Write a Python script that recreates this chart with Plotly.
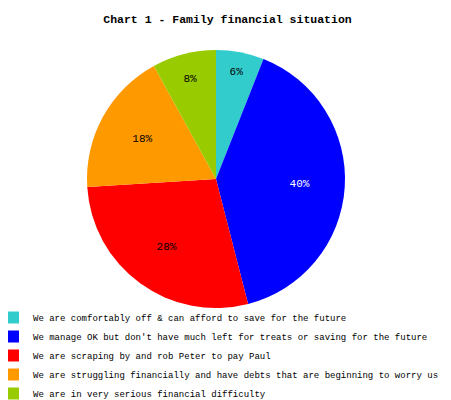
import plotly.graph_objects as go

labels = [
    "We are comfortably off & can afford to save for the future",
    "We manage OK but don't have much left for treats or saving for the future",
    "We are scraping by and rob Peter to pay Paul",
    "We are struggling financially and have debts that are beginning to worry us",
    "We are in very serious financial difficulty",
]
values = [6, 40, 28, 18, 8]
colors = ["#33CCCC", "#0000FF", "#FF0000", "#FF9900", "#99CC00"]
text_colors = ["#000000", "#FFFFFF", "#000000", "#000000", "#000000"]

# The page body has an 8px margin, so the figure is sized to the visible area
OFF = 8
W, H = 451 - OFF, 400 - OFF
cx, cy, R = 216 - OFF, 179 - OFF, 129
domain = dict(x=[(cx - R) / W, (cx + R) / W], y=[1 - (cy + R) / H, 1 - (cy - R) / H])

fig = go.Figure()
fig.add_trace(go.Pie(
    labels=labels,
    values=values,
    sort=False,
    direction="clockwise",
    rotation=0,
    marker=dict(colors=colors, line=dict(width=0)),
    textinfo="none",
    hoverinfo="label+percent",
    domain=domain,
))
# label layer: transparent ring so the percentages sit further out like the reference
fig.add_trace(go.Pie(
    labels=labels,
    values=values,
    sort=False,
    direction="clockwise",
    rotation=0,
    hole=0.3,
    marker=dict(colors=["rgba(0,0,0,0)"] * len(values), line=dict(width=0)),
    texttemplate="%{value}%",
    textposition="inside",
    insidetextorientation="horizontal",
    textfont=dict(family="Liberation Mono", size=11, color=text_colors),
    hoverinfo="skip",
    showlegend=False,
    domain=domain,
))

fig.update_layout(
    width=W, height=H,
    margin=dict(l=0, r=0, t=0, b=0, autoexpand=False),
    paper_bgcolor="white",
    title=dict(
        text="<b>Chart 1 - Family financial situation</b>",
        x=(227.5 - OFF) / W, xanchor="center", xref="container",
        y=1 - (19 - OFF) / H, yanchor="middle", yref="container",
        font=dict(family="Liberation Mono", size=11.5, color="#000000"),
    ),
    legend=dict(
        orientation="v",
        x=0, xanchor="left", xref="container",
        y=1 - (303 - OFF) / H, yanchor="top", yref="container",
        font=dict(family="Liberation Mono", size=9, color="#000000"),
        bgcolor="rgba(0,0,0,0)",
        indentation=-15,
        itemwidth=30,
    ),
    showlegend=True,
)

fig.write_html("out.html")
